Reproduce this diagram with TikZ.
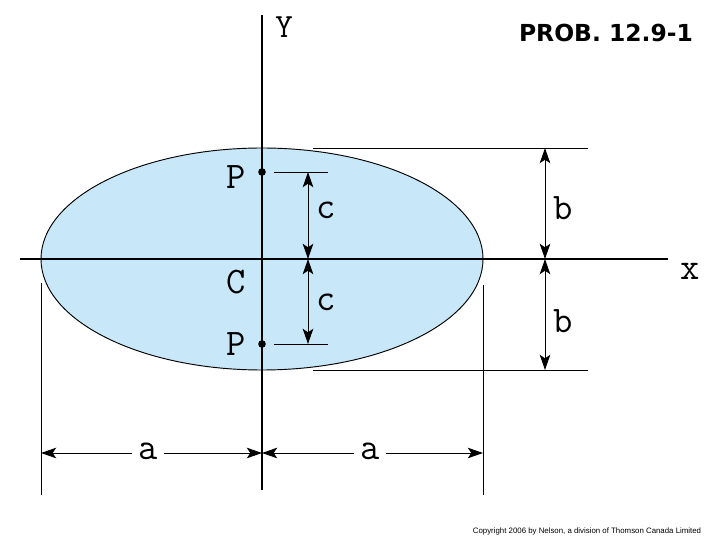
\documentclass[tikz,border=0pt]{standalone}
\usepackage{fontspec}
\newfontfamily\headfont{DejaVu Sans}
\newfontfamily\notefont{Liberation Sans}
\usetikzlibrary{arrows.meta}
\definecolor{areablue}{RGB}{200,232,250}
\begin{document}
\begin{tikzpicture}[
    x=0.03cm,
    y=-0.03cm,
    lab/.style={font=\ttfamily\fontsize{32}{32}\selectfont, inner sep=0pt},
    ax/.style={draw, line width=1.4pt},
    ext/.style={draw, line width=0.7pt},
    dim/.style={draw, line width=0.8pt, {Stealth[length=13pt, width=9pt, inset=3pt]}-{Stealth[length=13pt, width=9pt, inset=3pt]}},
    dot/.style={circle, fill, inner sep=0pt, minimum size=6.5pt},
]
    \useasboundingbox (0, 0) rectangle (720, 540);

    % area
    \draw[fill=areablue, line width=0.8pt] (262, 259) ellipse [x radius=221, y radius=111];

    % axes
    \coordinate (xl) at (20, 259);
    \coordinate (xr) at (668, 259);
    \coordinate (yt) at (262, 15);
    \coordinate (yb) at (262, 490);
    \path[ax] (xl) -- (xr);
    \path[ax] (yb) -- (yt);
    \node[lab, font=\ttfamily\fontsize{29}{29}\selectfont] (ylab) at (284, 27) {Y};
    \node[lab] (xlab) at (690, 271) {x};
    \node[lab] (clab) at (236, 282) {C};

    % points P
    \node[dot] (p1) at (262, 172) {};
    \node[dot] (p2) at (262, 344) {};
    \node[lab] (p1lab) at (236, 177) {P};
    \node[lab] (p2lab) at (236, 344) {P};
    \coordinate (p1a) at (274, 172);
    \coordinate (p1b) at (328, 172);
    \coordinate (p2a) at (274, 344);
    \coordinate (p2b) at (328, 344);
    \path[ext] (p1a) -- (p1b);
    \path[ext] (p2a) -- (p2b);

    % dimension c
    \coordinate (c1) at (308, 172);
    \coordinate (c0) at (308, 259);
    \coordinate (c2) at (308, 344);
    \path[dim] (c1) -- (c0);
    \path[dim] (c0) -- (c2);
    \node[lab] (c1lab) at (326, 210) {c};
    \node[lab] (c2lab) at (326, 302) {c};

    % dimension b
    \coordinate (bt1) at (313, 148);
    \coordinate (bt2) at (588, 148);
    \coordinate (bb1) at (313, 370);
    \coordinate (bb2) at (588, 370);
    \path[ext] (bt1) -- (bt2);
    \path[ext] (bb1) -- (bb2);
    \coordinate (b1) at (545, 148);
    \coordinate (b0) at (545, 259);
    \coordinate (b2) at (545, 370);
    \path[dim] (b1) -- (b0);
    \path[dim] (b0) -- (b2);
    \node[lab] (b1lab) at (563, 208) {b};
    \node[lab] (b2lab) at (563, 321) {b};

    % dimension a
    \coordinate (al1) at (41, 283);
    \coordinate (al2) at (41, 495);
    \coordinate (ar1) at (483, 285);
    \coordinate (ar2) at (483, 495);
    \path[ext] (al1) -- (al2);
    \path[ext] (ar1) -- (ar2);
    \coordinate (a1) at (41, 453);
    \coordinate (a0) at (262, 453);
    \coordinate (a2) at (483, 453);
    \path[dim] (a1) -- (a0);
    \path[dim] (a0) -- (a2);
    \node[lab, fill=white, inner xsep=5pt, inner ysep=2pt] (a1lab) at (148, 451) {a};
    \node[lab, fill=white, inner xsep=5pt, inner ysep=2pt] (a2lab) at (370, 451) {a};

    % captions
    \node[font=\headfont\bfseries\fontsize{20}{20}\selectfont, inner sep=0pt] (prob) at (606, 33) {PROB. 12.9-1};
    \node[font=\notefont\fontsize{6.7}{6.7}\selectfont, inner sep=0pt] (copy) at (587, 531) {Copyright 2006 by Nelson, a division of Thomson Canada Limited};
\end{tikzpicture}
\end{document}
